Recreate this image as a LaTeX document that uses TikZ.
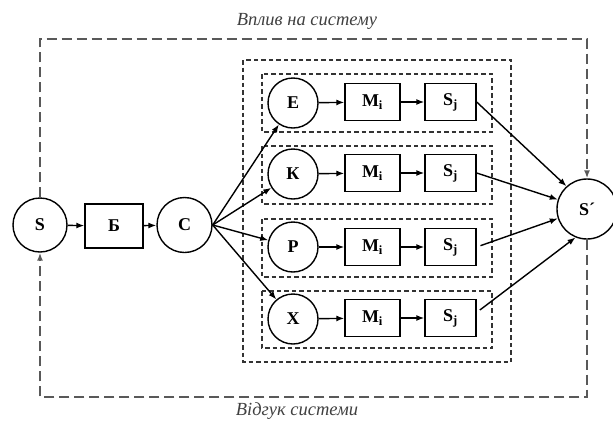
\documentclass[tikz,border=0pt]{standalone}
\usepackage{fontspec}
\setmainfont{Liberation Serif}
\usetikzlibrary{arrows,arrows.meta,positioning}
\tikzset{
	crc/.style={draw, circle, inner sep=0, font=\fontsize{18}{21}\selectfont\bfseries},
	blk/.style={draw, rectangle, inner sep=0, minimum width=55pt, minimum height=37pt,
		font=\fontsize{18}{21}\selectfont\bfseries},
	grp/.style={-, draw=black!80, dash pattern=on 4.5pt off 3pt, line width=1.5pt},
	fb/.style={draw=black!65, dash pattern=on 10pt off 5pt, line width=2.4pt},
	lbl/.style={font=\fontsize{18.5}{21}\selectfont\itshape, text=black!75}
}
\begin{document}
\begin{tikzpicture}[x=1pt, y=-1pt, ->, >={Latex[length=8pt,width=6pt]}, line width=1.4pt]
	\useasboundingbox (0,0) rectangle (613,421);
	% groups
	\draw[grp] (243,60) rectangle (511,362);
	\draw[grp] (262,74) rectangle (492,132);
	\draw[grp] (262,146) rectangle (492,204);
	\draw[grp] (262,219) rectangle (492,277);
	\draw[grp] (262,291) rectangle (492,348);
	% nodes
	\node[crc, minimum size=54pt] (s) at (40,225) {S};
	\node[blk, minimum width=58pt, minimum height=44pt] (b) at (114,226) {Б};
	\node[crc, minimum size=55pt] (c) at (184.5,225) {С};
	\node[crc, minimum size=50pt] (e) at (293,103) {Е};
	\node[blk] (m1) at (372.5,102) {M\textsubscript{i}};
	\node[blk, minimum width=51pt] (s1) at (450.5,102) {S\textsubscript{j}};
	\node[crc, minimum size=50pt] (k) at (293,174) {К};
	\node[blk] (m2) at (372.5,173) {M\textsubscript{i}};
	\node[blk, minimum width=51pt] (s2) at (450.5,173) {S\textsubscript{j}};
	\node[crc, minimum size=50pt] (p) at (293,247) {Р};
	\node[blk] (m3) at (372.5,247) {M\textsubscript{i}};
	\node[blk, minimum width=51pt] (s3) at (450.5,247) {S\textsubscript{j}};
	\node[crc, minimum size=50pt] (x) at (293,319) {Х};
	\node[blk] (m4) at (372.5,318) {M\textsubscript{i}};
	\node[blk, minimum width=51pt] (s4) at (450.5,318) {S\textsubscript{j}};
	\node[crc, minimum size=60pt] (sp) at (587,209) {S´};
	\node[lbl] (top) at (307,21) {Вплив на систему};
	\node[lbl] (bot) at (297,411) {Відгук системи};
	\coordinate (tr) at (587,39);
	\coordinate (bl) at (40,397);
	% links
	\path (s) edge (b);
	\path (b) edge (c);
	\path (c.east) edge (e) edge (k) edge (p) edge (x);
	\path (e) edge (m1);
	\path (m1) edge (s1);
	\path (k) edge (m2);
	\path (m2) edge (s2);
	\path (p) edge (m3);
	\path (m3) edge (s3);
	\path (x) edge (m4);
	\path (m4) edge (s4);
	\path (s1.east) edge (sp.132);
	\path (s2.east) edge (sp.162);
	\path (s3.east) edge[shorten <=4pt] (sp.198);
	\path (s4.12) edge[shorten <=4pt] (sp.248);
	% feedback
	\draw[fb] (s.north) |- (tr) -- (sp.north);
	\draw[fb] (sp.south) |- (bl) -- (s.south);
\end{tikzpicture}
\end{document}
